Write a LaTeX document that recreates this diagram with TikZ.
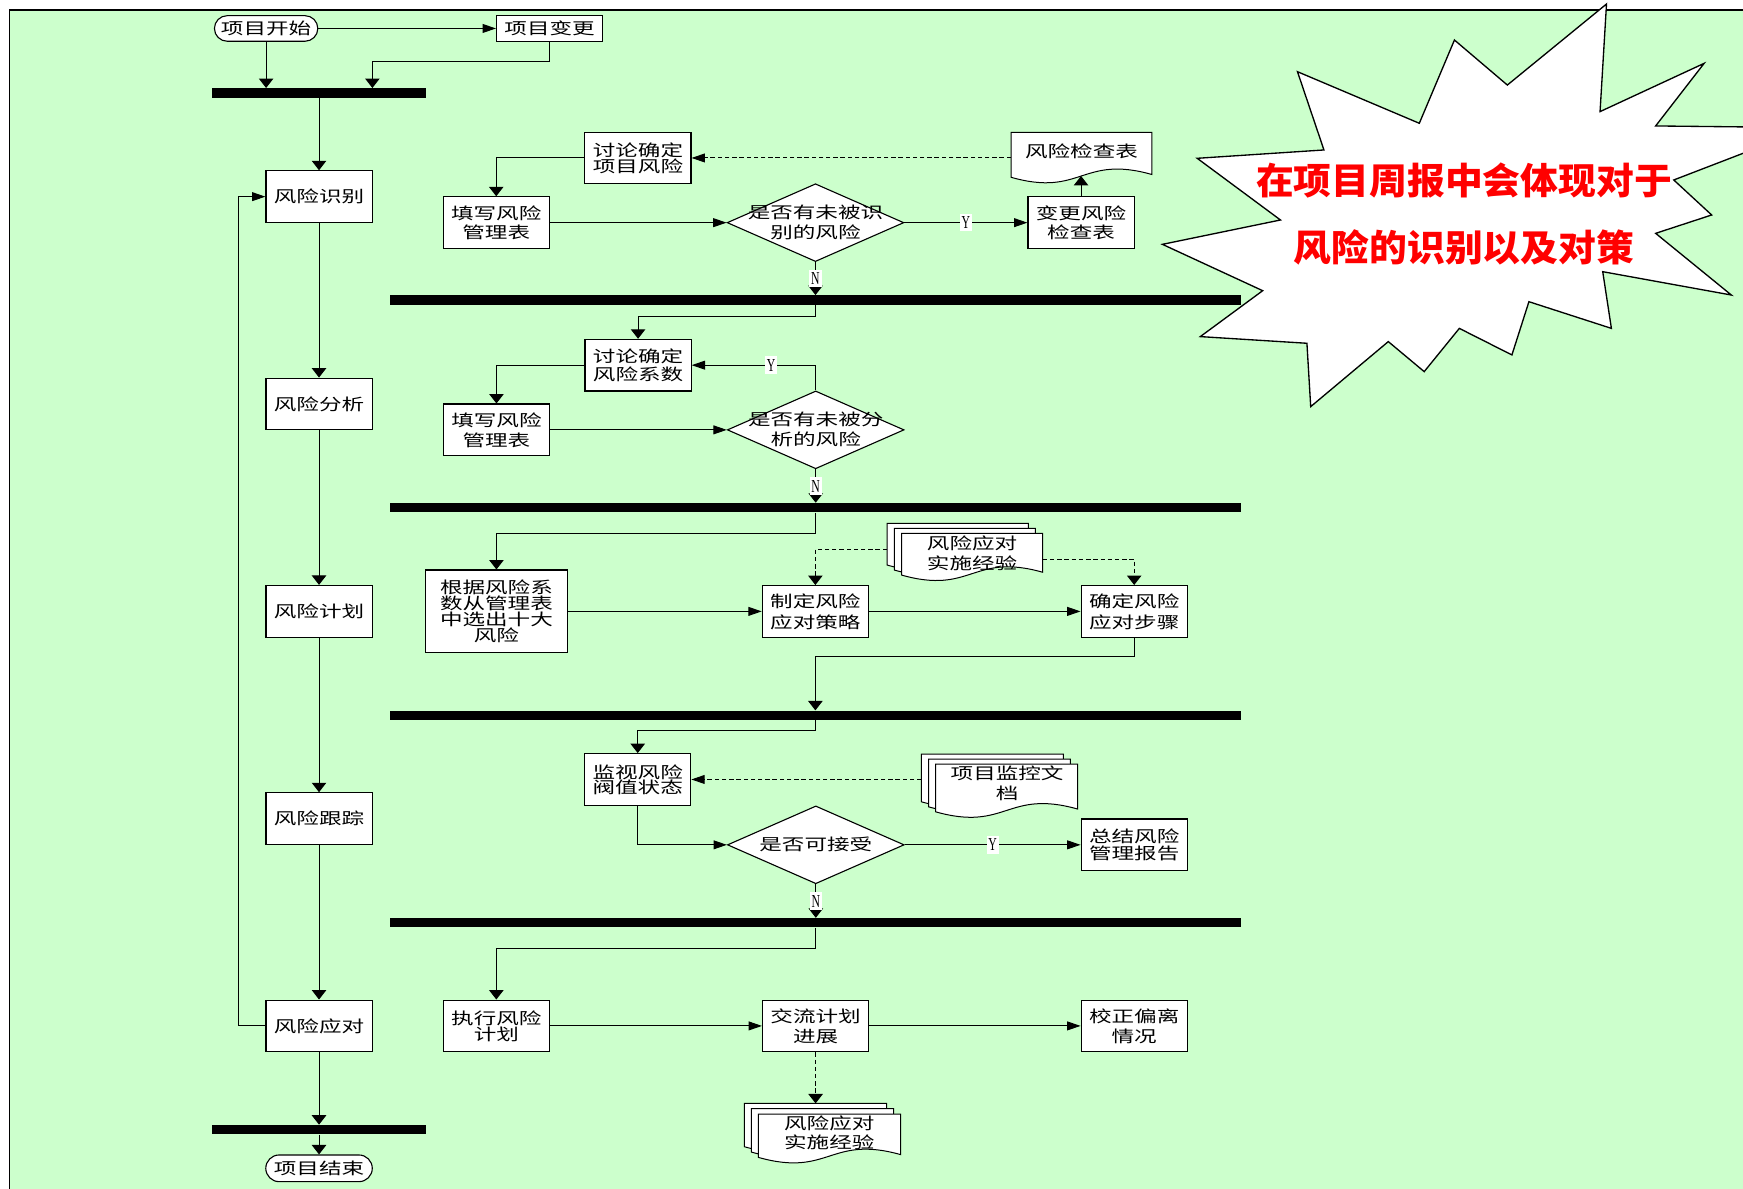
\documentclass[tikz,border=0pt]{standalone}
\usepackage{fontspec}
\newfontfamily\cjkfont[FakeStretch=1.4]{Noto Sans CJK SC}
\newfontfamily\cjkbold[FakeStretch=1.03]{Noto Sans CJK SC}
\newfontfamily\latnfont[FakeStretch=0.64]{Liberation Serif}
\usetikzlibrary{arrows.meta,shapes.geometric,shapes.misc}
\definecolor{bggreen}{RGB}{204,255,204}
\definecolor{burstred}{RGB}{255,0,0}

\tikzset{
  conn/.style={line width=0.9pt, draw=black},
  va/.style={conn, -{Triangle[length=8.5pt,width=13pt]}},
  ha/.style={conn, -{Triangle[length=12pt,width=8pt]}},
  dashline/.style={dash pattern=on 4pt off 2.5pt},
  txt/.style={font=\cjkfont\fontsize{14.5}{#1}\selectfont, align=center, inner sep=0pt},
  txt/.default=16.5,
  box/.style={draw, fill=white, line width=1pt, minimum width=95.5pt,
              minimum height=46.5pt, txt=#1},
  box/.default=16.5,
  term/.style={rounded rectangle, draw, fill=white, line width=1pt,
               minimum width=93pt, minimum height=23pt, txt},
  dia/.style={diamond, draw, fill=white, line width=1pt, inner sep=0pt,
              minimum width=159pt, minimum height=70pt},
  bar/.style={fill=black, minimum height=8.5pt, inner sep=0pt},
  longbar/.style={bar, minimum width=765.5pt},
  yn/.style={fill=white, inner xsep=1.6pt, inner ysep=2.4pt,
             font=\latnfont\fontsize{16.5}{18}\selectfont},
  docline/.style={draw, fill=white, line width=0.9pt},
  burst/.style={fill=white, draw, line width=1.2pt, line join=miter},
}

% one document page: top-left x, y, width, height of the left edge
\newcommand\docpage[4]{%
  \draw[docline] (#1,#2) -- ({#1+#3},#2) -- ({#1+#3},{#2+#4-2.5})
    .. controls ({#1+0.5*#3},{#2+#4-20.5}) and ({#1+0.5*#3},{#2+#4+18}) ..
    (#1,{#2+#4}) -- cycle;}

\begin{document}
\begin{tikzpicture}[x=1pt,y=-1pt]
\useasboundingbox (0,0) rectangle (1568,1069);
\clip (0,0) rectangle (1568,1069);
\fill[white] (0,0) rectangle (1568,1069);
\draw[fill=bggreen, line width=1.6pt] (8.5,9) rectangle (1620,1120);

% call-out burst
\draw[burst] (1445.2,3.6) -- (1439.4,100.4) -- (1533.0,57.0) -- (1489.4,113.3)
  -- (1600,114.5) -- (1600,125.6) -- (1505.7,161.9) -- (1539.8,193.4)
  -- (1489.4,209.9) -- (1557.5,265.4) -- (1441.8,244.4) -- (1449.6,295.4)
  -- (1375.4,271.4) -- (1360.1,319.3) -- (1312.8,295.4) -- (1281.2,334.3)
  -- (1248.9,307.3) -- (1179.1,365.8) -- (1175.7,308.8) -- (1079.8,302.8)
  -- (1135.9,261.5) -- (1045.7,219.8) -- (1151.9,197.9) -- (1077.0,142.4)
  -- (1191.0,134.9) -- (1167.2,64.5) -- (1276.8,110.9) -- (1308.4,36.0)
  -- (1356.0,76.5) -- cycle;
\node[font=\cjkbold\bfseries\fontsize{33}{60.5}\selectfont, text=burstred,
      align=center, inner sep=0pt] (note) at (1317,192.3)
  {在项目周报中会体现对于\\风险的识别以及对策};

% main column
\node[term] (start) at (239.4,25.6) {项目开始};
\node[box, minimum height=23.4pt] (change) at (494.4,25.6) {项目变更};
\node[bar, minimum width=192pt] (bar1) at (287,83.6) {};
\node[box] (r1) at (287,176.9) {风险识别};
\node[box] (r2) at (287,363.4) {风险分析};
\node[box] (r3) at (287,549.9) {风险计划};
\node[box] (r4) at (287,736.4) {风险跟踪};
\node[box] (r5) at (287,922.9) {风险应对};
\node[bar, minimum width=192.8pt] (bar2) at (287,1016.2) {};
\node[term, minimum width=95.8pt, minimum height=24pt] (finish) at (287,1051) {项目结束};

\draw[ha] (start.east) -- (change.west);
\draw[va] (start.south) -- (start.south |- bar1.north);
\draw[va] (change.south) -- ++(0,17.4) -| ([xshift=48pt]bar1.north);
\draw[va] (bar1.south) -- (r1.north);
\draw[va] (r1.south) -- (r2.north);
\draw[va] (r2.south) -- (r3.north);
\draw[va] (r3.south) -- (r4.north);
\draw[va] (r4.south) -- (r5.north);
\draw[ha] (r5.west) -- ++(-23.8,0) |- (r1.west);
\draw[va] (r5.south) -- (bar2.north);
\draw[va] (bar2.south) -- (finish.north);

% identification
\node[box=13.2] (a1) at (573.9,142.1) {讨论确定\\项目风险};
\node[box=17] (b1) at (446.4,200.3) {填写风险\\管理表};
\node[dia] (d1) at (733.6,200.3) {};
\node[txt=18] (d1t) at (733.6,200.3) {是否有未被识\\别的风险};
\node[box=16.5] (c1) at (972.5,200.3) {变更风险\\检查表};
\docpage{909.6}{119}{126.7}{40.5}
\node[txt] (chk) at (972.9,136.4) {风险检查表};
\coordinate (chk-w) at (909.6,142.1);
\coordinate (chk-s) at (972.5,158.3);
\node[longbar] (L1) at (733.3,269.9) {};

\draw[va] (a1.west) -| (b1.north);
\draw[ha] (b1.east) -- (d1.west);
\draw[ha] (d1.east) -- node[yn]{Y} (c1.west);
\draw[va] (c1.north) -- (chk-s);
\draw[ha, dashline] (chk-w) -- (a1.east);
\draw[va] (d1.south) -- node[yn]{N} (d1.south |- L1.north);

% analysis
\node[box=15.9] (a2) at (574,328.5) {讨论确定\\风险系数};
\node[box=18] (b2) at (446.6,386.7) {填写风险\\管理表};
\node[dia] (d2) at (733.8,386.7) {};
\node[txt=18] (d2t) at (733.8,386.4) {是否有未被分\\析的风险};
\node[longbar] (L2) at (733.3,456.7) {};

\draw[va] (d1.south |- L1.south) -- ++(0,10.5) -| (a2.north);
\draw[va] (a2.west) -| (b2.north);
\draw[ha] (b2.east) -- (d2.west);
\draw[ha] (d2.north) |- node[yn, pos=0.68]{Y} (a2.east);
\draw[va] (d2.south) -- node[yn]{N} (d2.south |- L2.north);

% planning
\node[box=12.6, minimum width=127.6pt, minimum height=74.4pt] (p1) at (446.6,550)
  {根据风险系\\数从管理表\\中选出十大\\风险};
\node[box=18.9] (p2) at (733.5,550) {制定风险\\应对策略};
\node[box=18.9] (p3) at (1020.3,550) {确定风险\\应对步骤};
\docpage{798}{470.8}{127}{37.5}
\docpage{804.5}{475.3}{127}{37.5}
\docpage{811}{479.8}{127}{37.5}
\node[txt=18] (exp1) at (874.5,497.8) {风险应对\\实施经验};
\coordinate (exp1-w) at (798,494);
\coordinate (exp1-e) at (938,503);
\node[longbar] (L3) at (733.3,643.5) {};

\draw[va] (d2.south |- L2.south) -- ++(0,18.6) -| (p1.north);
\draw[ha] (p1.east) -- (p2.west);
\draw[ha] (p2.east) -- (p3.west);
\draw[va, dashline] (exp1-w) -| (p2.north);
\draw[va, dashline] (exp1-e) -| (p3.north);
\draw[va] (p3.south) -- ++(0,16.5) -| (p2.south |- L3.north);

% tracking
\node[box=13.5] (q1) at (573.7,701.2) {监视风险\\阀值状态};
\docpage{828.9}{678.3}{127.7}{43}
\docpage{835.3}{682.8}{127.7}{43}
\docpage{841.7}{687.3}{127.7}{43}
\node[txt=18] (exp2) at (906,704.7) {项目监控文\\档};
\coordinate (exp2-w) at (828.9,701.2);
\node[dia] (qd) at (733.9,760) {};
\node[txt] (qdt) at (733.9,759.6) {是否可接受};
\node[box=15.6] (q3) at (1020.3,760) {总结风险\\管理报告};
\node[longbar] (L4) at (733.3,830.1) {};

\draw[va] (p2.south |- L3.south) -- ++(0,9.5) -| (q1.north);
\draw[ha, dashline] (exp2-w) -- (q1.east);
\draw[ha] (q1.south) |- (qd.west);
\draw[ha] (qd.east) -- node[yn]{Y} (q3.west);
\draw[va] (qd.south) -- node[yn]{N} (qd.south |- L4.north);

% response
\node[box=14.4] (s1) at (446.5,922.9) {执行风险\\计划};
\node[box=18] (s2) at (733.7,922.9) {交流计划\\进展};
\node[box=18] (s3) at (1020.3,922.9) {校正偏离\\情况};
\docpage{669.7}{992.6}{128}{39}
\docpage{676}{997.4}{128}{39}
\docpage{682.3}{1002.2}{128}{39}
\node[txt=17.4] (exp3) at (746,1019.3) {风险应对\\实施经验};
\coordinate (exp3-n) at (733.7,992.6);

\draw[va] (qd.south |- L4.south) -- ++(0,19) -| (s1.north);
\draw[ha] (s1.east) -- (s2.west);
\draw[ha] (s2.east) -- (s3.west);
\draw[va, dashline] (s2.south) -- (exp3-n);
\end{tikzpicture}
\end{document}
